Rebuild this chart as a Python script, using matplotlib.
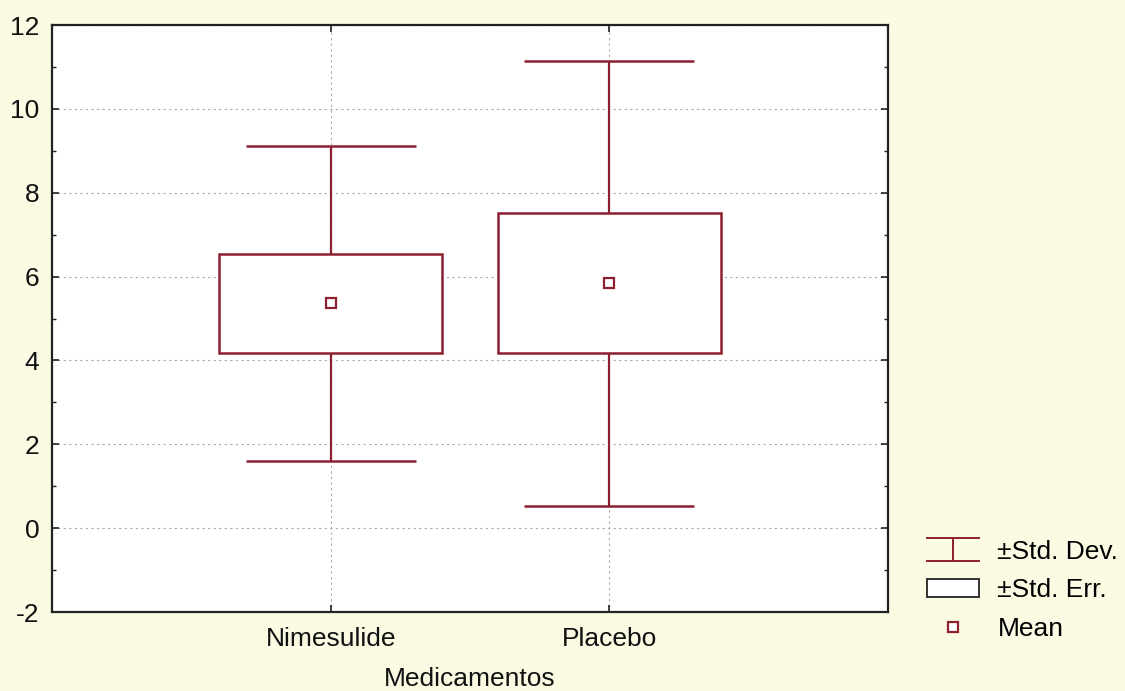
import numpy as np
import matplotlib
matplotlib.use("Agg")
import matplotlib.pyplot as plt
from matplotlib.lines import Line2D
from matplotlib.patches import Patch
from matplotlib.legend_handler import HandlerBase
from matplotlib.ticker import MultipleLocator

plt.rcParams['font.family'] = ['Liberation Sans', 'DejaVu Sans']
plt.rcParams['axes.unicode_minus'] = False

# data
groups = ["Nimesulide", "Placebo"]
means = np.array([5.36, 5.84])
std_err = np.array([1.19, 1.67])
std_dev = np.array([3.75, 5.31])

red = "#8E1F2F"
bg = "#FBFBE4"

fig = plt.figure(figsize=(11.25, 6.91), dpi=100, facecolor=bg)
ax = fig.add_axes([0.0462, 0.1143, 0.7431, 0.8495])
ax.set_facecolor("white")

x = np.arange(1, len(groups) + 1)

# whiskers (±SD)
ax.vlines(x, means - std_dev, means + std_dev, color=red, lw=1.6, zorder=2)
ax.hlines(means + std_dev, x - 0.305, x + 0.305, color=red, lw=1.8, zorder=2)
ax.hlines(means - std_dev, x - 0.305, x + 0.305, color=red, lw=1.8, zorder=2)

# boxes (±SE)
ax.bar(x, 2 * std_err, bottom=means - std_err, width=0.8, color="white",
       edgecolor=red, linewidth=1.8, zorder=3)

# means
ax.plot(x, means, ls="none", marker="s", ms=7, mfc="white", mec=red,
        mew=1.6, zorder=4)

ax.set_xlim(0, 3)
ax.set_ylim(-2, 12)
ax.set_xticks(x)
ax.set_xticklabels(groups)
ax.yaxis.set_major_locator(MultipleLocator(2))
ax.yaxis.set_minor_locator(MultipleLocator(1))
ax.tick_params(axis="both", which="both", direction="in", labelsize=19,
               right=True, top=True, colors="#222222", labelcolor="#111111")
ax.tick_params(axis="both", which="major", length=5, width=1.2)
ax.tick_params(axis="y", which="minor", length=3, width=1)
ax.tick_params(axis="x", pad=11)
ax.tick_params(axis="y", pad=9)
ax.grid(True, which="major", color="#A8A8A8", ls=(0, (2, 3)), lw=0.8, zorder=0)
ax.set_axisbelow(True)
for s in ax.spines.values():
    s.set_linewidth(1.6)
    s.set_color("#222222")
ax.set_xlabel("Medicamentos", fontsize=19, labelpad=11, color="#111111")


class WhiskerHandler(HandlerBase):
    def create_artists(self, legend, orig_handle, xdescent, ydescent,
                       width, height, fontsize, trans):
        x0 = -xdescent
        x1 = x0 + width
        xm = (x0 + x1) / 2
        y0 = -ydescent - 0.1 * height
        y1 = -ydescent + 1.1 * height
        kw = dict(color=red, lw=1.4, transform=trans)
        return [Line2D([x0, x1], [y0, y0], **kw),
                Line2D([x0, x1], [y1, y1], **kw),
                Line2D([xm, xm], [y0, y1], **kw)]


h_sd = Line2D([], [])
h_se = Patch(facecolor="white", edgecolor="#333333", linewidth=1.4)
h_mean = Line2D([], [], ls="none", marker="s", ms=6.5, mfc="white", mec=red, mew=1.6)

fig.legend([h_sd, h_se, h_mean], ["±Std. Dev.", "±Std. Err.", "Mean"],
           handler_map={h_sd: WhiskerHandler()},
           loc="lower left", bbox_to_anchor=(0.808, 0.046), frameon=False,
           fontsize=19, handlelength=1.95, handletextpad=0.7, labelspacing=0.55,
           borderpad=0.2)

fig.savefig("out.png", dpi=100, facecolor=bg)
